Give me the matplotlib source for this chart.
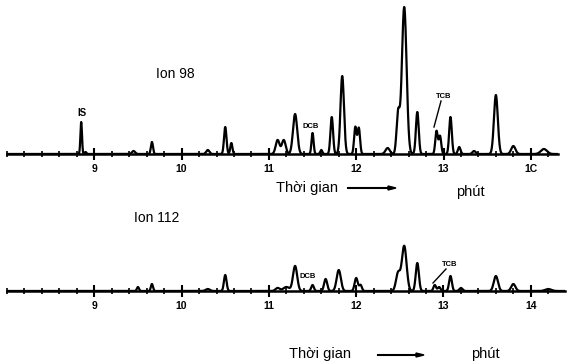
import numpy as np
import matplotlib.pyplot as plt
from matplotlib.ticker import MultipleLocator

plt.rcParams['font.family'] = ['Liberation Sans', 'DejaVu Sans']

# peak list: retention time [min], height [px], width (sigma) [min]
ion98_rt = [8.85, 8.9, 9.45, 9.66, 10.3, 10.5, 10.57, 11.1, 11.17, 11.3, 11.5, 11.6,
            11.72, 11.84, 11.99, 12.03, 12.36, 12.48, 12.55, 12.7, 12.92, 12.96,
            13.08, 13.18, 13.35, 13.6, 13.8, 14.15]
ion98_h = [32, 2, 3, 12, 4, 27, 11, 14, 14, 40, 21, 4,
           37, 78, 27, 26, 6, 40, 147, 42, 23, 18,
           37, 7, 3, 59, 8, 5]
ion98_w = [0.009, 0.01, 0.018, 0.012, 0.018, 0.014, 0.012, 0.022, 0.022, 0.024, 0.012, 0.012,
           0.015, 0.02, 0.014, 0.014, 0.024, 0.018, 0.027, 0.016, 0.014, 0.014,
           0.015, 0.015, 0.018, 0.022, 0.024, 0.035]

ion112_rt = [9.5, 9.66, 10.3, 10.5, 11.1, 11.2, 11.3, 11.5, 11.65, 11.8, 12.0, 12.05,
             12.48, 12.55, 12.7, 12.9, 12.95, 13.08, 13.2, 13.6, 13.8, 14.2]
ion112_h = [4, 7, 2, 16, 3, 4, 25, 6, 12, 21, 13, 6,
            18, 45, 28, 6, 4, 15, 3, 15, 7, 2]
ion112_w = [0.012, 0.012, 0.024, 0.015, 0.024, 0.035, 0.024, 0.015, 0.018, 0.024, 0.018, 0.015,
            0.024, 0.027, 0.018, 0.015, 0.015, 0.016, 0.018, 0.024, 0.024, 0.035]


def trace(t, rt, h, w):
    y = np.zeros_like(t)
    for r, a, s in zip(rt, h, w):
        y += a * np.exp(-0.5 * ((t - r) / s) ** 2)
    return y


W, H = 570, 364
fig = plt.figure(figsize=(5.7, 3.64), dpi=100)


def fx(x):
    return x / W


def fy(y):
    return 1 - y / H


def make_axes(left, right, base, top, tmin, px_per_min):
    ax = fig.add_axes([fx(left), fy(base), fx(right - left), (base - top) / H])
    ax.set_xlim(tmin, tmin + (right - left) / px_per_min)
    ax.set_ylim(0, base - top)
    for s in ('top', 'right', 'left'):
        ax.spines[s].set_visible(False)
    ax.spines['bottom'].set_linewidth(1.8)
    ax.set_yticks([])
    ax.xaxis.set_major_locator(MultipleLocator(1))
    ax.xaxis.set_minor_locator(MultipleLocator(0.2))
    ax.tick_params(axis='x', which='major', direction='inout', length=9, width=1.5,
                   labelsize=7.5, pad=3)
    ax.tick_params(axis='x', which='minor', direction='inout', length=5, width=1.2)
    ax.patch.set_alpha(0)
    return ax


ax1 = make_axes(7, 558, 154, 4, 8.0, 87.3)
t1 = np.linspace(*ax1.get_xlim(), 3000)
ax1.plot(t1, trace(t1, ion98_rt, ion98_h, ion98_w), color='black', lw=1.6)
ax1.set_xticks([9, 10, 11, 12, 13, 14])
ax1.set_xticklabels(['9', '10', '11', '12', '13', '1C'], fontweight='bold')

ax2 = make_axes(7, 565, 291, 230, 8.0, 87.3)
t2 = np.linspace(*ax2.get_xlim(), 3000)
ax2.plot(t2, trace(t2, ion112_rt, ion112_h, ion112_w), color='black', lw=1.6)
ax2.set_xticks([9, 10, 11, 12, 13, 14])
ax2.set_xticklabels(['9', '10', '11', '12', '13', '14'], fontweight='bold')

# labels
fig.text(fx(175), fy(74), 'Ion 98', fontsize=10, ha='center', va='center')
fig.text(fx(82), fy(113), 'IS', fontsize=7, fontweight='bold', ha='center', va='center')
fig.text(fx(311), fy(127), 'DCB', fontsize=5.5, fontweight='bold', ha='center', va='center')
fig.text(fx(444), fy(96), 'TCB', fontsize=5.5, fontweight='bold', ha='center', va='center')
fig.add_artist(plt.Line2D([fx(441), fx(434)], [fy(101), fy(127)], color='black', lw=1))

fig.text(fx(157), fy(218), 'Ion 112', fontsize=10, ha='center', va='center')
fig.text(fx(308), fy(276), 'DCB', fontsize=5.5, fontweight='bold', ha='center', va='center')
fig.text(fx(450), fy(264), 'TCB', fontsize=5.5, fontweight='bold', ha='center', va='center')
fig.add_artist(plt.Line2D([fx(446), fx(433)], [fy(269), fy(283)], color='black', lw=1))

fig.text(fx(307), fy(188), 'Thời gian', fontsize=10.5, ha='center', va='center')
fig.text(fx(470), fy(192), 'phút', fontsize=10.5, ha='center', va='center')
fig.text(fx(320), fy(354), 'Thời gian', fontsize=10.5, ha='center', va='center')
fig.text(fx(485), fy(354), 'phút', fontsize=10.5, ha='center', va='center')
for x0, x1, y in [(348, 392, 188), (378, 420, 355)]:
    fig.add_artist(plt.Line2D([fx(x0), fx(x1)], [fy(y), fy(y)], color='black', lw=1.5))
    fig.patches.append(plt.Polygon([[fx(x1 + 4), fy(y)], [fx(x1 - 4), fy(y - 2)],
                                    [fx(x1 - 4), fy(y + 2)]], closed=True,
                                   color='black', transform=fig.transFigure))

fig.savefig('out.png', dpi=100)
